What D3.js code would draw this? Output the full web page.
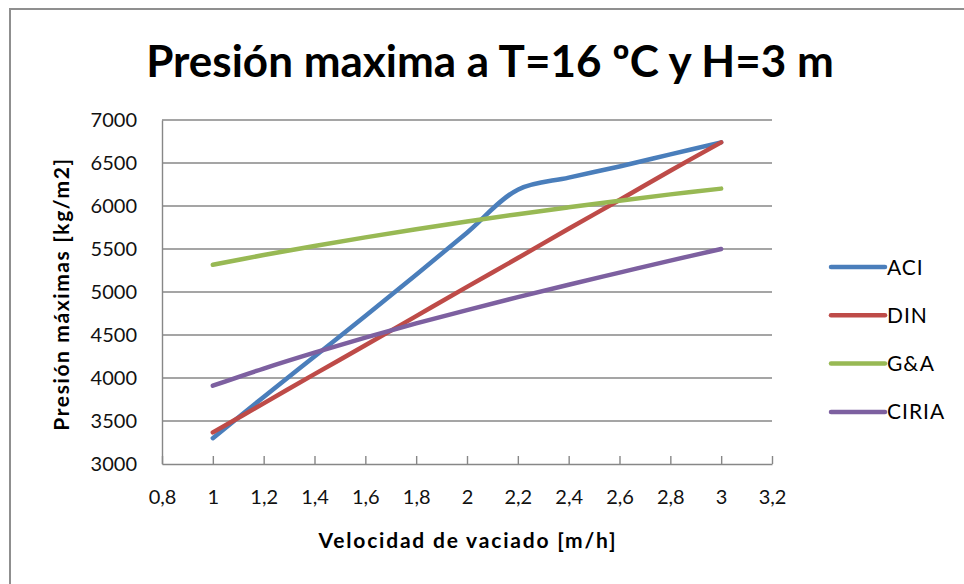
<!doctype html>
<html>
<head>
    <style>
        body { margin: 0; background: #fff; }
        text { font-family: Lato, "Open Sans", sans-serif; fill: #000; }
        .grid line { stroke: #878787; stroke-width: 1.4; }
        .axis path, .axis line { stroke: #878787; stroke-width: 1.4; }
        .axis text { font-size: 20px; fill: #111; font-family: Lato, sans-serif; }
        .serie { fill: none; stroke-width: 4.5; stroke-linecap: round; stroke-linejoin: round; }
    </style>
    <script src="https://d3js.org/d3.v7.min.js"></script>
</head>
<body>
<svg width="964" height="584"></svg>
<script>

    // velocidad de vaciado [m/h]
    var velocidad = [1, 1.2, 1.4, 1.6, 1.8, 2, 2.2, 2.4, 2.6, 2.8, 3];

    // presion maxima [kg/m2]
    var aci   = [3300, 3780, 4250, 4720, 5200, 5690, 6190, 6330, 6460, 6600, 6740];
    var din   = [3368, 3705, 4045, 4380, 4720, 5060, 5395, 5735, 6070, 6410, 6740];
    var ga    = [5317, 5430, 5535, 5635, 5730, 5820, 5905, 5985, 6062, 6135, 6202];
    var ciria = [3910, 4110, 4295, 4470, 4635, 4790, 4940, 5085, 5225, 5365, 5500];

    var nombres = ["ACI", "DIN", "G&A", "CIRIA"];
    var colores = ["#4a7ebb", "#be4b48", "#98b954", "#7d60a0"];

    var xTicks = [0.8, 1, 1.2, 1.4, 1.6, 1.8, 2, 2.2, 2.4, 2.6, 2.8, 3, 3.2];
    var yTicks = [3000, 3500, 4000, 4500, 5000, 5500, 6000, 6500, 7000];

    var svg = d3.select("svg");

    var series = [aci, din, ga, ciria].map(function(vals, i) {
        return {
            name: nombres[i],
            color: colores[i],
            values: vals.map(function(v, j) { return { x: velocidad[j], y: v }; })
        };
    });

    var plotL = 162, plotR = 772, plotT = 120, plotB = 464;

    var xScale = d3.scaleLinear().domain([0.8, 3.2]).range([plotL, plotR]),
        yScale = d3.scaleLinear().domain([3000, 7000]).range([plotB, plotT]);

    // marco exterior del grafico
    svg.append("rect")
       .attr("x", 10)
       .attr("y", 9)
       .attr("width", 1000)
       .attr("height", 620)
       .attr("fill", "none")
       .attr("stroke", "#8f8f8f")
       .attr("stroke-width", 2);

    svg.append("text")
       .attr("x", 490)
       .attr("y", 77)
       .attr("text-anchor", "middle")
       .attr("font-size", "44px")
       .attr("font-weight", "bold")
       .text("Presión maxima a T=16 ºC y H=3 m");

    // lineas de division
    svg.append("g")
       .attr("class", "grid")
       .selectAll("line")
       .data(yTicks.slice(1))
       .enter().append("line")
       .attr("x1", plotL)
       .attr("x2", plotR)
       .attr("y1", function(d) { return yScale(d); })
       .attr("y2", function(d) { return yScale(d); });

    var fmt = function(d) { return String(d).replace(".", ","); };

    svg.append("g")
       .attr("class", "axis")
       .attr("transform", "translate(0," + plotB + ")")
       .call(d3.axisBottom(xScale)
           .tickValues(xTicks)
           .tickFormat(fmt)
           .tickSizeInner(-8)
           .tickSizeOuter(0)
           .tickPadding(26));

    svg.append("g")
       .attr("class", "axis")
       .attr("transform", "translate(" + plotL + ",0)")
       .call(d3.axisLeft(yScale)
           .tickValues(yTicks)
           .tickFormat(fmt)
           .tickSize(0)
           .tickPadding(25));

    svg.selectAll(".axis text").attr("font-family", null);

    svg.append("text")
       .attr("x", 468)
       .attr("y", 548)
       .attr("text-anchor", "middle")
       .attr("font-size", "21px")
       .attr("font-weight", "bold")
       .attr("letter-spacing", "1.8px")
       .text("Velocidad de vaciado [m/h]");

    svg.append("text")
       .attr("transform", "translate(69,294) rotate(-90)")
       .attr("text-anchor", "middle")
       .attr("font-size", "21px")
       .attr("font-weight", "bold")
       .attr("letter-spacing", "1.6px")
       .text("Presión máximas  [kg/m2]");

    var line = d3.line()
        .x(function(d) { return xScale(d.x); })
        .y(function(d) { return yScale(d.y); })
        .curve(d3.curveCatmullRom);

    svg.selectAll(".serie")
       .data(series)
       .enter().append("path")
       .attr("class", "serie")
       .attr("stroke", function(d) { return d.color; })
       .attr("d", function(d) { return line(d.values); });

    // leyenda
    var legend = svg.selectAll(".legend")
        .data(series)
        .enter().append("g")
        .attr("class", "legend")
        .attr("transform", function(d, i) { return "translate(831," + (267 + i * 48.3) + ")"; });

    legend.append("line")
          .attr("x1", 0)
          .attr("x2", 54)
          .attr("stroke", function(d) { return d.color; })
          .attr("stroke-width", 4.5)
          .attr("stroke-linecap", "round");

    legend.append("text")
          .attr("x", 56)
          .attr("dy", "0.36em")
          .attr("font-size", "21px")
          .attr("letter-spacing", "1px")
          .text(function(d) { return d.name; });
</script>
</body>
</html>
